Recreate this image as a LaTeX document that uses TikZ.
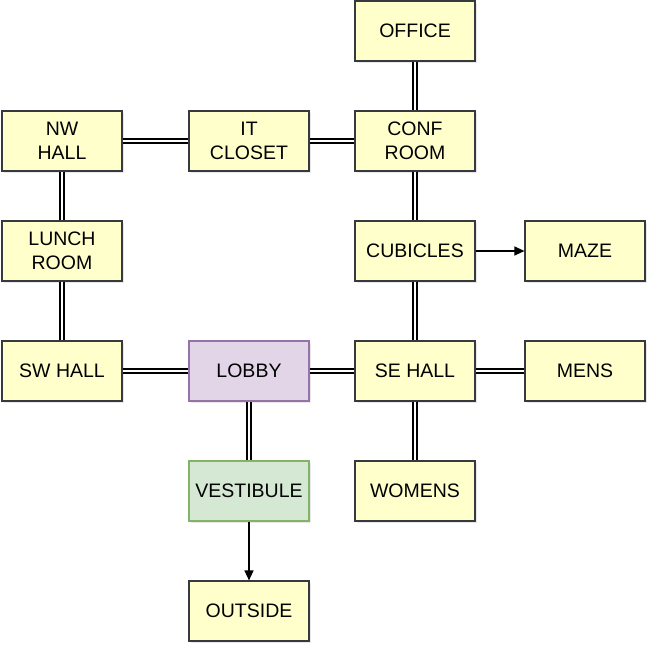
\documentclass[tikz,border=0pt]{standalone}
\usepackage{fontspec}
\setmainfont{Liberation Sans}
\usepackage{xcolor}
\definecolor{room-fill}{HTML}{FFFFCC}
\definecolor{room-line}{HTML}{36393D}
\definecolor{lobby-fill}{HTML}{E1D5E7}
\definecolor{lobby-line}{HTML}{9673A6}
\definecolor{vest-fill}{HTML}{D5E8D4}
\definecolor{vest-line}{HTML}{82B366}
\usetikzlibrary{arrows.meta,shadows}
\tikzset{
  room/.style={draw=room-line, fill=room-fill, line width=1.2pt,
    minimum width=120pt, minimum height=60pt, align=center,
    inner sep=0pt, font=\fontsize{19.5}{23.5}\selectfont,
    drop shadow={opacity=0.18, shadow xshift=2pt, shadow yshift=-2pt}},
  passage/.style={double, line width=1.8pt, double distance=2.2pt},
  oneway/.style={line width=1.3pt, -{Triangle[length=10pt,width=9pt]}}
}
\begin{document}
\begin{tikzpicture}[x=1pt, y=-1pt]

    % Frame
    \useasboundingbox (0,0) rectangle (651,648);

% Rooms
\node[room] (office) at (415,31) {OFFICE};
\node[room] (nwhall) at (62,141) {NW\\HALL};
\node[room] (itcloset) at (249,141) {IT\\CLOSET};
\node[room] (confroom) at (415,141) {CONF\\ROOM};
\node[room] (lunchroom) at (62,251) {LUNCH\\ROOM};
\node[room] (cubicles) at (415,251) {CUBICLES};
\node[room] (maze) at (585,251) {MAZE};
\node[room] (swhall) at (62,371) {SW HALL};
\node[room, draw=lobby-line, fill=lobby-fill] (lobby) at (249,371) {LOBBY};
\node[room] (sehall) at (415,371) {SE HALL};
\node[room] (mens) at (585,371) {MENS};
\node[room, draw=vest-line, fill=vest-fill] (vestibule) at (249,491) {VESTIBULE};
\node[room] (womens) at (415,491) {WOMENS};
\node[room] (outside) at (249,611) {OUTSIDE};

% Passages
\draw[passage] (office) -- (confroom);
\draw[passage] (nwhall) -- (itcloset);
\draw[passage] (itcloset) -- (confroom);
\draw[passage] (nwhall) -- (lunchroom);
\draw[passage] (lunchroom) -- (swhall);
\draw[passage] (confroom) -- (cubicles);
\draw[passage] (cubicles) -- (sehall);
\draw[passage] (swhall) -- (lobby);
\draw[passage] (lobby) -- (sehall);
\draw[passage] (sehall) -- (mens);
\draw[passage] (sehall) -- (womens);
\draw[passage] (lobby) -- (vestibule);

% One way only
\draw[oneway] (cubicles) -- (maze);
\draw[oneway] (vestibule) -- (outside);

\end{tikzpicture}
\end{document}
